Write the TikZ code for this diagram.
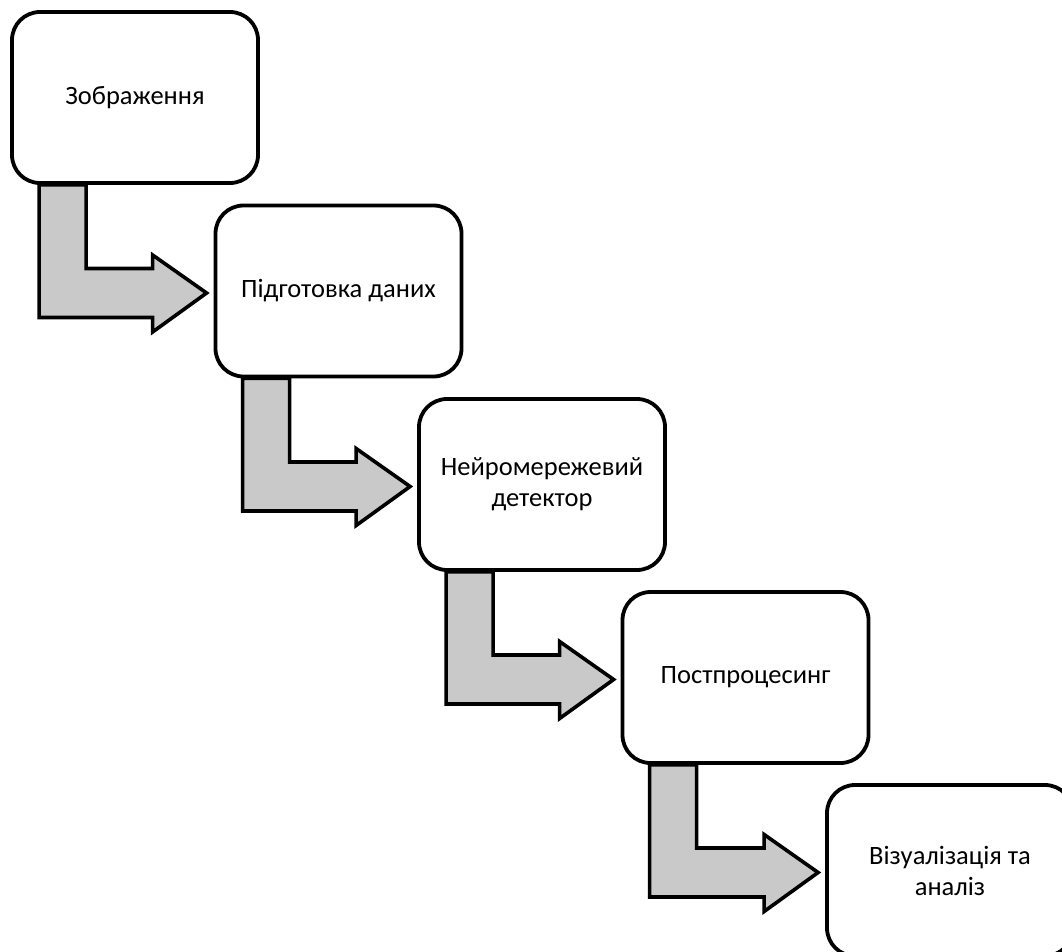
\documentclass[tikz,border=0pt]{standalone}
\usepackage{fontspec}
\setmainfont{Carlito}
\usetikzlibrary{calc}
\definecolor{arrowgray}{RGB}{201,201,201}
\pgfdeclarelayer{bg}
\pgfsetlayers{bg,main}
\tikzset{
  box/.style={draw, line width=3.8pt, rounded corners=28pt, fill=white,
    minimum width=246pt, minimum height=171pt, align=center, inner sep=0pt,
    font=\fontsize{26.5}{31}\selectfont},
  flow/.style={draw, line width=3.6pt, fill=arrowgray, line join=miter}
}
\newcommand{\bentarrow}[2]{%
  \begin{pgfonlayer}{bg}
  \draw[flow] let \p1=(#1.south west), \p2=(#2.west) in
    (\x1+29pt,\y1) -- (\x1+76pt,\y1) -- (\x1+76pt,\y2+22.5pt)
    -- (\x2-61pt,\y2+22.5pt) -- (\x2-61pt,\y2+36pt) -- (\x2-7pt,\y2-2pt)
    -- (\x2-61pt,\y2-41pt) -- (\x2-61pt,\y2-26.5pt) -- (\x1+29pt,\y2-26.5pt) -- cycle;
  \end{pgfonlayer}}
\begin{document}
\begin{tikzpicture}[x=1pt,y=-1pt]
\useasboundingbox (0,0) rectangle (1062,952);
\clip (0,0) rectangle (1062,952);
\node[box] (b1) at (135,97.5) {Зображення};
\node[box] (b2) at (338.5,291) {Підготовка даних};
\node[box] (b3) at (542,484.5) {Нейромережевий\\детектор};
\node[box] (b4) at (745.5,677.5) {Постпроцесинг};
\node[box] (b5) at (950,870.5) {Візуалізація та\\аналіз};
\bentarrow{b1}{b2}
\bentarrow{b2}{b3}
\bentarrow{b3}{b4}
\bentarrow{b4}{b5}
\end{tikzpicture}
\end{document}
